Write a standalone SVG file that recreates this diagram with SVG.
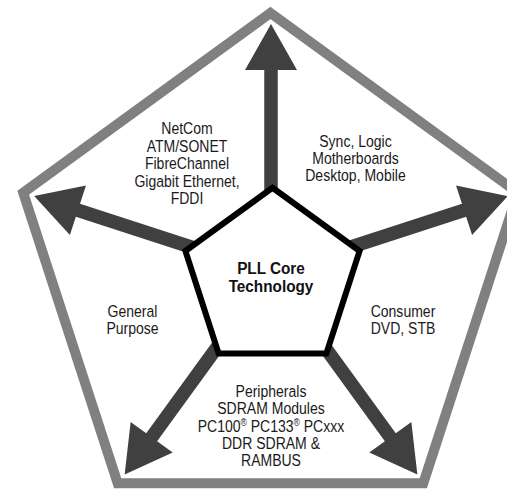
<svg xmlns="http://www.w3.org/2000/svg" width="507" height="489" viewBox="0 0 507 489">
<style>
.lbl{font-family:"Liberation Sans",Arial,sans-serif;font-size:16.5px;fill:#1a1a1a;text-anchor:middle}
.core{font-family:"Liberation Sans",Arial,sans-serif;font-size:17px;font-weight:bold;fill:#111;text-anchor:middle}
.sup{font-size:10px}
.arrow{fill:#404040}
</style>
<defs>
<polygon id="arr" points="-6.75,0 -6.75,-203 -26,-203 0,-249 26,-203 6.75,-203 6.75,0"/>
</defs>
<rect width="507" height="489" fill="#fff"/>
<g id="frame">
<polygon points="270.5,13 517.8,192.7 423.3,483.3 117.7,483.3 23.2,192.7" fill="none" stroke="#808080" stroke-width="10"/>
</g>
<g id="connectors" class="arrow">
<use href="#arr" transform="translate(271,273)"/>
<use href="#arr" transform="translate(271,273) rotate(72)"/>
<use href="#arr" transform="translate(271,273) rotate(144)"/>
<use href="#arr" transform="translate(271,273) rotate(-72)"/>
<use href="#arr" transform="translate(271,273) rotate(-144)"/>
</g>
<g id="core">
<polygon points="272.5,187.7 359.6,251 326.4,353.4 218.6,353.4 185.4,251" fill="#fff" stroke="#000" stroke-width="6"/>
<g transform="matrix(0.9,0,0,1,27.1,0)">
<text class="core" x="271" y="274">PLL Core</text>
<text class="core" x="271" y="292">Technology</text>
</g>
</g>
<g id="netcom" transform="matrix(0.85,0,0,1,28.05,0)">
<text class="lbl" x="187" y="134">NetCom</text>
<text class="lbl" x="187" y="152">ATM/SONET</text>
<text class="lbl" x="187" y="169">FibreChannel</text>
<text class="lbl" x="187" y="187">Gigabit Ethernet,</text>
<text class="lbl" x="187" y="204">FDDI</text>
</g>
<g id="sync" transform="matrix(0.85,0,0,1,53.3,0)">
<text class="lbl" x="355.5" y="147">Sync, Logic</text>
<text class="lbl" x="355.5" y="164">Motherboards</text>
<text class="lbl" x="355.5" y="181">Desktop, Mobile</text>
</g>
<g id="general" transform="matrix(0.85,0,0,1,19.9,0)">
<text class="lbl" x="132.5" y="317">General</text>
<text class="lbl" x="132.5" y="334">Purpose</text>
</g>
<g id="consumer" transform="matrix(0.85,0,0,1,60.45,0)">
<text class="lbl" x="403" y="317">Consumer</text>
<text class="lbl" x="403" y="334">DVD, STB</text>
</g>
<g id="peripherals" transform="matrix(0.85,0,0,1,40.65,0)">
<text class="lbl" x="271" y="397">Peripherals</text>
<text class="lbl" x="271" y="414">SDRAM Modules</text>
<text class="lbl" x="271" y="432">PC100<tspan class="sup" dy="-6">®</tspan><tspan dy="6"> PC133</tspan><tspan class="sup" dy="-6">®</tspan><tspan dy="6"> PCxxx</tspan></text>
<text class="lbl" x="271" y="449">DDR SDRAM &amp;</text>
<text class="lbl" x="271" y="466">RAMBUS</text>
</g>
</svg>
